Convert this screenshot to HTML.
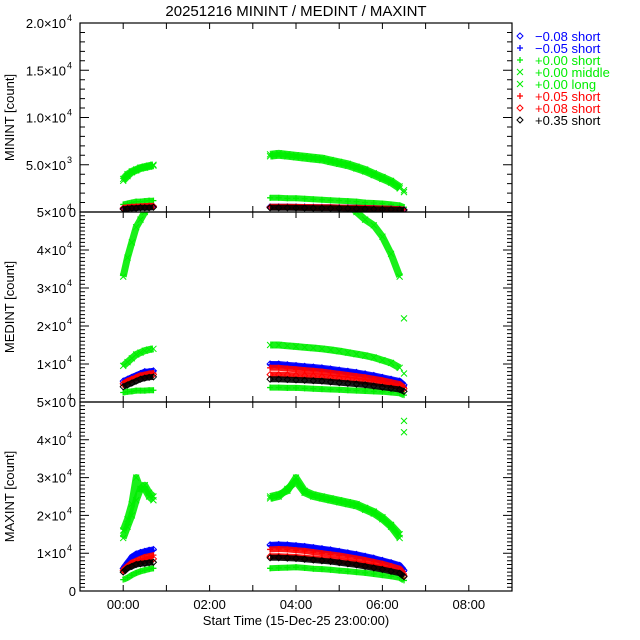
<!DOCTYPE html>
<html><head><meta charset="utf-8"><style>
html,body{margin:0;padding:0;background:#fff}
svg{display:block;font-family:"Liberation Sans",sans-serif}
</style></head><body>
<svg id="c" width="640" height="640" viewBox="0 0 640 640"></svg>
<script>
// ---- data ----
const t1 = [0.0, 0.1, 0.2, 0.3, 0.4, 0.5, 0.6, 0.7];
const t2 = [3.4,3.6,3.8,4.0,4.2,4.4,4.6,4.8,5.0,5.2,5.4,5.6,5.8,6.0,6.2,6.4,6.5];
const seriesNames = ["-0.08 short","-0.05 short","+0.00 short","+0.00 middle","+0.00 long","+0.05 short","+0.08 short","+0.35 short"];
const legendLabels = ["\u22120.08 short","\u22120.05 short","+0.00 short","+0.00 middle","+0.00 long","+0.05 short","+0.08 short","+0.35 short"];
const colors = ["#0000ff","#0000ff","#00ee00","#00ee00","#00ee00","#ff0000","#ff0000","#000000"];
const markers = ["diamond","plus","plus","x","x","plus","diamond","diamond"];
const panelTitles = ["MININT [count]","MEDINT [count]","MAXINT [count]"];
const xTickLabels = ["00:00","02:00","04:00","06:00","08:00"];
const xTickHours = [0,2,4,6,8];
const minSeg1 = [
 [400,450,500,500,550,550,600,600],
 [350,400,450,450,500,500,550,550],
 [800,900,1000,1100,1100,1150,1200,1200],
 [3500,4000,4300,4500,4700,4800,4900,5000],
 [3300,3800,4200,4400,4600,4700,4800,4900],
 [450,500,550,550,600,600,650,650],
 [400,450,500,550,550,600,600,600],
 [300,350,400,400,450,450,450,500]];
const minSeg2 = [
 [550,550,550,540,530,520,510,500,480,460,440,420,400,370,340,300,250],
 [520,520,510,500,500,490,480,470,460,440,420,400,380,350,320,280,230],
 [1500,1500,1450,1450,1400,1350,1300,1250,1200,1150,1100,1000,950,900,800,700,500],
 [6100,6200,6100,6000,5900,5800,5700,5500,5300,5100,4800,4500,4100,3700,3300,2700,2300],
 [5900,6000,5900,5800,5700,5600,5500,5300,5100,4900,4600,4300,3900,3500,3100,2500,2100],
 [560,560,550,540,530,520,510,500,480,460,440,420,400,370,340,300,250],
 [500,500,500,490,480,470,460,450,440,420,400,380,360,340,310,270,220],
 [450,450,440,430,420,410,400,390,380,360,340,320,300,280,260,230,200]];
const medSeg1 = [
 [5500,6000,6500,7000,7500,8000,8000,8200],
 [5000,5800,6500,7000,7500,7800,8000,8200],
 [2500,2700,2800,3000,3000,3000,3100,3100],
 [9500,10500,11500,12500,13000,13500,13800,14000],
 [33000,38000,42000,46000,48000,50000,52000,53000],
 [4500,5200,5800,6500,7000,7200,7500,7600],
 [4800,5500,6000,6300,6600,6800,7000,7200],
 [4000,4500,5000,5500,6000,6300,6500,6600]];
const medSeg2 = [
 [10000,10000,9800,9600,9400,9200,9000,8700,8400,8100,7800,7400,7000,6500,6000,5500,4500],
 [9800,9700,9500,9300,9100,8900,8700,8400,8100,7800,7500,7100,6700,6200,5700,5200,4200],
 [3800,3800,3700,3700,3600,3500,3400,3300,3200,3100,3000,2900,2800,2700,2500,2300,1800],
 [15000,15000,14800,14600,14400,14200,14000,13700,13400,13000,12600,12200,11700,11000,10300,9000,7500],
 [60000,60000,60000,60000,60000,60000,60000,58000,55000,52000,50000,48000,46500,43500,39000,33000,22000],
 [9000,9000,8800,8600,8400,8200,8000,7700,7400,7100,6800,6500,6100,5700,5200,4700,3800],
 [7200,7200,7100,7000,6900,6800,6600,6400,6200,6000,5700,5400,5100,4800,4400,4000,3500],
 [6000,6000,5900,5800,5700,5600,5500,5300,5100,4900,4700,4500,4200,3900,3600,3300,2800]];
const maxSeg1 = [
 [6000,7500,9000,9800,10200,10500,10800,11000],
 [5500,7000,9000,9500,10000,10200,10500,10800],
 [3000,3500,4200,4800,5200,5500,5800,6000],
 [14000,17000,20000,24000,27000,28000,26000,25000],
 [16000,19000,23000,30000,27000,27000,25000,24000],
 [5000,6500,7500,8000,8500,9000,9200,9500],
 [5500,6500,7000,7500,7800,8000,8200,8500],
 [5000,6000,6500,7000,7200,7300,7500,7600]];
const maxSeg2 = [
 [12200,12300,12200,12000,11800,11500,11200,10900,10500,10100,9700,9200,8700,8100,7500,6800,5500],
 [12000,12100,12000,11800,11600,11300,11000,10700,10300,9900,9500,9000,8500,7900,7300,6600,5200],
 [6000,6100,6200,6300,6100,5900,5800,5600,5400,5200,5000,4800,4500,4200,3900,3500,2800],
 [25000,25500,26500,30000,26500,25500,25000,24500,24000,23500,23000,22000,21000,19500,17500,15000,45000],
 [24500,25000,27000,29000,26000,25000,24500,24000,23500,23000,22500,21500,20500,19000,17000,14000,42000],
 [11000,11100,11000,10800,10600,10300,10000,9700,9400,9000,8600,8200,7700,7200,6600,5900,4500],
 [9200,9200,9100,9000,8800,8600,8400,8200,7900,7600,7300,6900,6500,6100,5600,5000,4000],
 [8800,8800,8700,8600,8400,8200,8000,7800,7500,7200,6900,6500,6100,5700,5200,4700,3800]];
const panelSeg1 = [minSeg1, medSeg1, maxSeg1];
const panelSeg2 = [minSeg2, medSeg2, maxSeg2];
const panelYMax = [20000, 50000, 50000];
const panelMajor = [5000, 10000, 10000];
const panelMinor = [1000, 1000, 1000];

// ---- layout ----
const NS = "http://www.w3.org/2000/svg";
const svg = document.getElementById('c');
const X0 = 80, X1 = 512, XMIN = -1, XMAX = 9;
const panels = [{top:23,bot:212},{top:212,bot:402},{top:402,bot:591}];
const xs = h => X0 + (h - XMIN) / (XMAX - XMIN) * (X1 - X0);
function mk(tag, attrs, parent){ const e=document.createElementNS(NS,tag); for(const k in attrs) e.setAttribute(k,attrs[k]); (parent||svg).appendChild(e); return e; }

const title = mk('text',{x:296,y:16,'text-anchor':'middle','font-size':15,fill:'#000'});
title.textContent = "20251216 MININT / MEDINT / MAXINT";



function fmtLabel(v, p){
  if (v === 0) return ["0",""];
  const e = Math.floor(Math.log10(v));
  if (p === 0) return [(v/Math.pow(10,e)).toFixed(1)+"\u00d710", String(e)];
  return [String(Math.round(v/Math.pow(10,e)))+"\u00d710", String(e)];
}

function drawMarker(g, type, x, y, col){
  const s = 3;
  if (type === 'diamond') return mk('path',{d:`M${x} ${y-s}L${x+s} ${y}L${x} ${y+s}L${x-s} ${y}Z`,fill:'none',stroke:col,'stroke-width':1},g);
  if (type === 'plus') return mk('path',{d:`M${x-s} ${y}H${x+s}M${x} ${y-s}V${y+s}`,stroke:col,'stroke-width':1.3},g);
  return mk('path',{d:`M${x-s} ${y-s}L${x+s} ${y+s}M${x-s} ${y+s}L${x+s} ${y-s}`,stroke:col,'stroke-width':1},g);
}

panels.forEach((P, pi) => {
  const g = mk('g',{});
  
  
  const ymax = panelYMax[pi];
  const ys = v => P.bot - v / ymax * (P.bot - P.top);
  const clipId = 'clip'+pi;
  const cp = mk('clipPath',{id:clipId},g); mk('rect',{x:X0,y:P.top,width:X1-X0,height:P.bot-P.top},cp);
  const dg = mk('g',{'clip-path':`url(#${clipId})`},g);
  const order = [4,3,2,1,0,5,6,7];
  order.forEach(si => {
    const sg = mk('g',{},dg);
    
    
    const isX = markers[si] === 'x';
    [[t1, panelSeg1[pi][si], false],[t2, panelSeg2[pi][si], true]].forEach(([tt, vv, seg2]) => {
      const n = (seg2 && isX) ? tt.length - 1 : tt.length;
      const pts = tt.slice(0,n).map((t,i)=>`${xs(t).toFixed(1)},${ys(vv[i]).toFixed(1)}`).join(' ');
      const band = mk('polyline',{points:pts,fill:'none',stroke:colors[si],'stroke-width':isX?7:6,'stroke-linejoin':'round','stroke-opacity':0.9},sg);
      
      
      tt.forEach((t,i) => {
        const m = drawMarker(sg, markers[si], xs(t), ys(vv[i]), colors[si]);
        
        
      });
    });
  });
  const fr = mk('rect',{x:X0,y:P.top,width:X1-X0,height:P.bot-P.top,fill:'none',stroke:'#000','stroke-width':1.2},g);
  
  
  for (let v = 0; v <= ymax + 1; v += panelMinor[pi]) {
    const major = v % panelMajor[pi] === 0;
    const L = major ? 9 : 5, y = ys(v);
    mk('path',{d:`M${X0} ${y}h${L}M${X1} ${y}h${-L}`,stroke:'#000','stroke-width':1},g);
    if (major) {
      const [m, e] = fmtLabel(v, pi);
      const tx = mk('text',{x:e? 66: 76,y:y+5,'text-anchor':'end','font-size':13,fill:'#000'},g);
      tx.textContent = m;
      
      
      if (e) { const sp = mk('text',{x:67,y:y-2,'font-size':9,fill:'#000'},g); sp.textContent = e;
        
         }
    }
  }
  for (let h = 0; h <= 8; h++) {
    const x = xs(h);
    mk('path',{d:`M${x} ${P.bot}v-6M${x} ${P.top}v6`,stroke:'#000','stroke-width':1},g);
  }
  const yt = mk('text',{transform:`translate(14 ${(P.top+P.bot)/2}) rotate(-90)`,'text-anchor':'middle','font-size':13,fill:'#000'},g);
  yt.textContent = panelTitles[pi];
  
  
});

xTickHours.forEach((h,i) => {
  const t = mk('text',{x:xs(h),y:609,'text-anchor':'middle','font-size':13,fill:'#000'});
  t.textContent = xTickLabels[i];
  
  
});
const xt = mk('text',{x:296,y:625,'text-anchor':'middle','font-size':13,fill:'#000'});
xt.textContent = "Start Time (15-Dec-25 23:00:00)";



const lg = mk('g',{});


legendLabels.forEach((lab, i) => {
  const y = 36 + i * 12;
  const eg = mk('g',{},lg);
  
  
  drawMarker(eg, markers[i], 520, y, colors[i]);
  const t = mk('text',{x:535,y:y+5,'font-size':13,fill:colors[i]},eg);
  t.textContent = lab;
});
</script>
</body></html>
